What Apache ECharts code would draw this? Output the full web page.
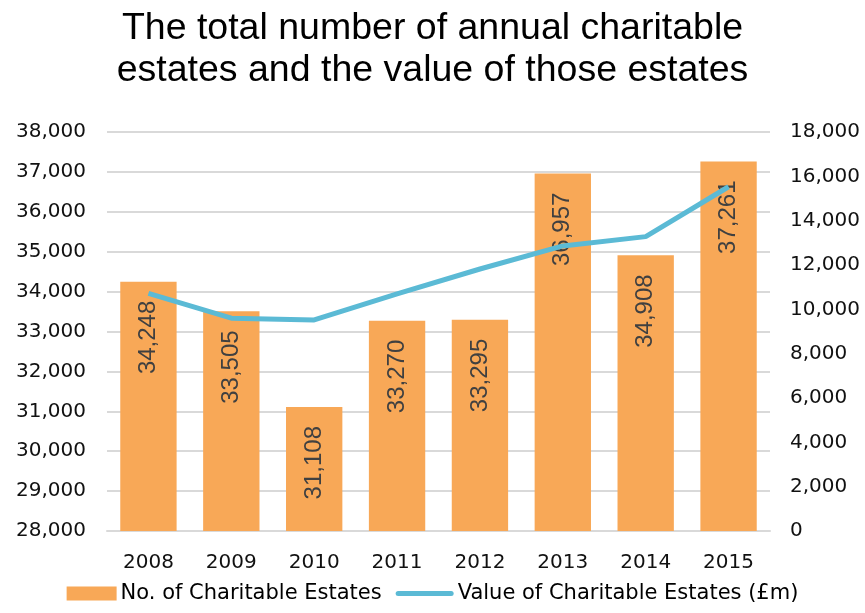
<!DOCTYPE html>
<html>
<head>
<meta charset="utf-8">
<script src="https://cdn.jsdelivr.net/npm/echarts@6/dist/echarts.min.js"></script>
<style>html,body{margin:0;padding:0;background:#fff}#c{width:865px;height:613px}</style>
</head>
<body>
<div id="c"></div>
<script>
const categories = ['2008','2009','2010','2011','2012','2013','2014','2015'];
const estates = [34248, 33505, 31108, 33270, 33295, 36957, 34908, 37261];
const values = [10720, 9600, 9520, 10700, 11820, 12860, 13280, 15530];
const leftTicks = {min: 28000, max: 38000, interval: 1000};
const rightTicks = {min: 0, max: 18000, interval: 2000};

const FONT = '"Liberation Sans", Arial, Helvetica, sans-serif';
const WIDE = '"DejaVu Sans", "Liberation Sans", sans-serif';
const fmt = v => v.toLocaleString('en-US');
const chart = echarts.init(document.getElementById('c'), null, {renderer: 'canvas'});
chart.setOption({
  animation: false,
  textStyle: {fontFamily: FONT},
  title: {
    text: 'The total number of annual charitable\nestates and the value of those estates',
    left: 'center', top: 3,
    textStyle: {fontFamily: FONT, fontSize: 37.5, fontWeight: 'normal', color: '#000', lineHeight: 42}
  },
  legend: {
    bottom: 4, left: 'center', itemGap: 14, itemWidth: 58, itemHeight: 14,
    textStyle: {fontFamily: WIDE, fontSize: 21, color: '#000'},
    data: [
      {name: 'No. of Charitable Estates', icon: 'path://M0,0L50,0L50,14L0,14Z',
       textStyle: {padding: [0,0,0,-5]}},
      {name: 'Value of Charitable Estates (£m)',
       icon: 'path://M2.5,0L55.5,0A2.5,2.5,0,0,1,55.5,5L2.5,5A2.5,2.5,0,0,1,2.5,0Z',
       textStyle: {padding: [0,0,0,-1]}}
    ]
  },
  grid: {left: 107, right: 95, top: 132, bottom: 82},
  xAxis: {
    type: 'category', data: categories,
    axisLine: {lineStyle: {color: '#d9d9d9', width: 2}},
    axisTick: {show: false},
    axisLabel: {fontSize: 20, color: '#111', margin: 22, fontFamily: WIDE}
  },
  yAxis: [
    {type: 'value', min: leftTicks.min, max: leftTicks.max, interval: leftTicks.interval,
     axisLine: {show: false}, axisTick: {show: false},
     splitLine: {lineStyle: {color: '#d9d9d9', width: 2}},
     axisLabel: {fontSize: 20, color: '#111', margin: 21, formatter: fmt, fontFamily: WIDE}},
    {type: 'value', min: rightTicks.min, max: rightTicks.max, interval: rightTicks.interval,
     axisLine: {show: false}, axisTick: {show: false}, splitLine: {show: false},
     axisLabel: {fontSize: 20, color: '#111', margin: 20, formatter: fmt, fontFamily: WIDE}}
  ],
  series: [
    {name: 'No. of Charitable Estates', type: 'bar', data: estates, yAxisIndex: 0,
     barCategoryGap: '32%',
     itemStyle: {color: '#F8A857'},
     label: {show: true, position: 'insideTop', rotate: 90, align: 'right', verticalAlign: 'middle',
       distance: 19, formatter: p => fmt(p.value), fontSize: 24, color: '#404040', fontFamily: FONT}},
    {name: 'Value of Charitable Estates (£m)', type: 'line', data: values, yAxisIndex: 1,
     symbol: 'none', lineStyle: {color: '#5BBAD5', width: 5}, itemStyle: {color: '#5BBAD5'}}
  ]
});
</script>
</body>
</html>
